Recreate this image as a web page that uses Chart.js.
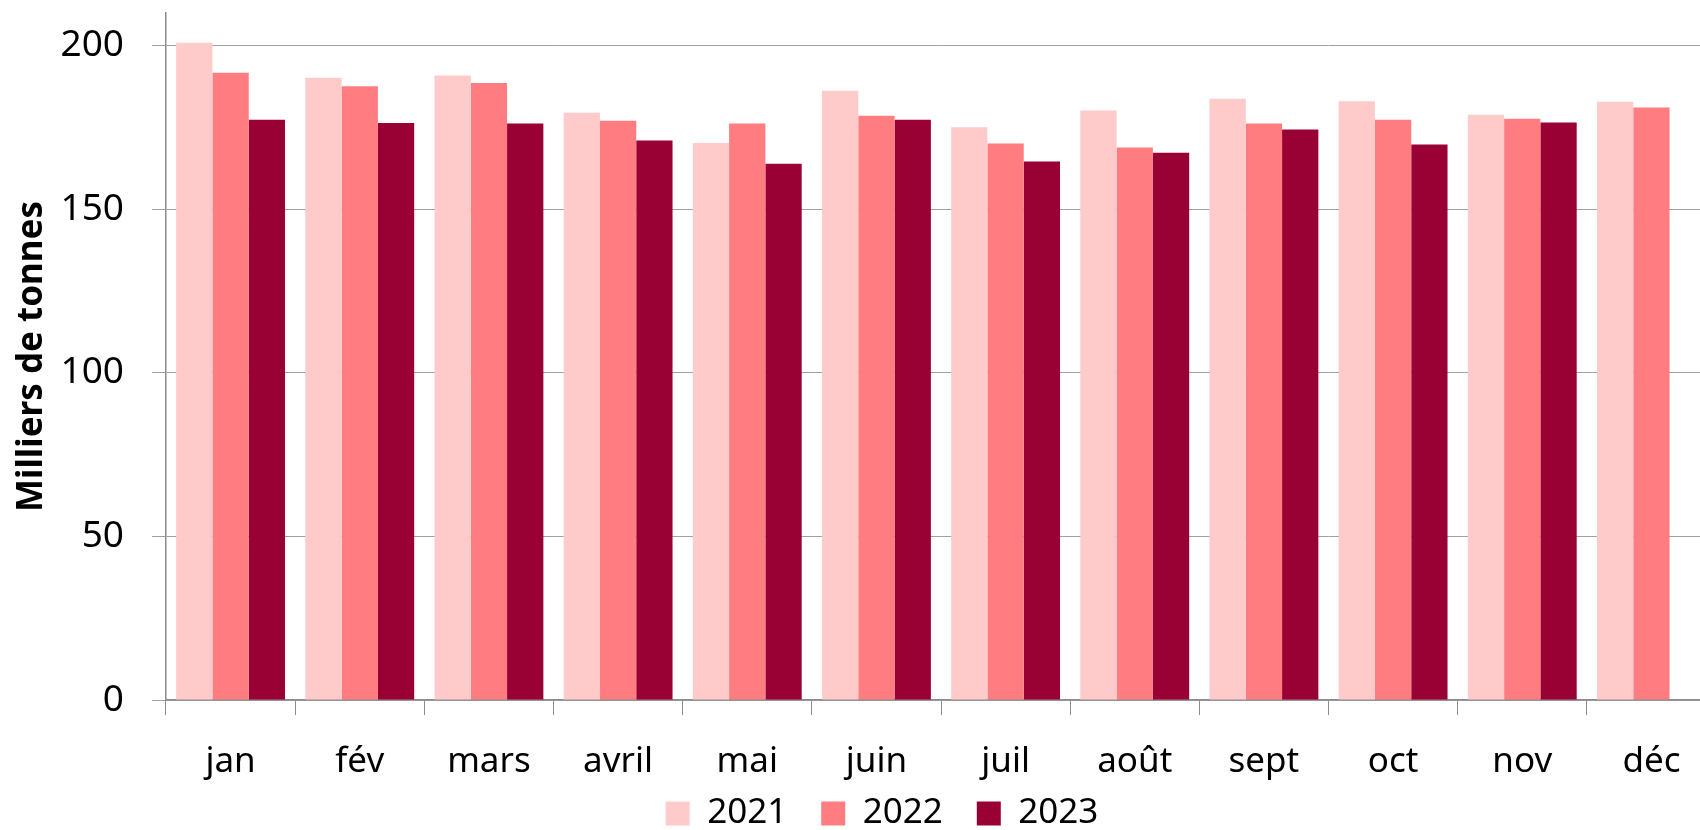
<!DOCTYPE html>
<html lang="fr">
<head>
<meta charset="utf-8">
<title>Milliers de tonnes par mois</title>
<script src="https://cdn.jsdelivr.net/npm/chart.js@4"></script>
<style>
    html, body { margin: 0; padding: 0; background: #fff; overflow: hidden; }
    #wrap { width: 1716px; height: 830px; }
</style>
</head>
<body>
<div id="wrap"><canvas id="moisChart"></canvas></div>
<script>
// Données (milliers de tonnes)
const mois = ['jan', 'fév', 'mars', 'avril', 'mai', 'juin', 'juil', 'août', 'sept', 'oct', 'nov', 'déc'];
const annees = ['2021', '2022', '2023'];
const valeurs2021 = [200.9, 190.2, 190.9, 179.5, 170.3, 186.2, 175.1, 180.2, 183.8, 183.0, 178.9, 182.9];
const valeurs2022 = [191.7, 187.6, 188.6, 177.1, 176.2, 178.6, 170.1, 168.9, 176.2, 177.4, 177.7, 181.1];
const valeurs2023 = [177.4, 176.4, 176.2, 171.0, 163.9, 177.4, 164.6, 167.3, 174.4, 169.8, 176.5, null];
const graduations = [0, 50, 100, 150, 200];
const couleurs = ['#FFCACA', '#FF7C80', '#990033'];

Chart.defaults.font.family = '"Noto Sans", sans-serif';
Chart.defaults.color = '#000';

// la légende prend peu de hauteur, remonte sous l'axe des mois et se décale à droite
const legendeCompacte = {
    id: 'legendeCompacte',
    beforeLayout: function(chart) {
        const legende = chart.legend;
        if (legende && !legende._compacte) {
            const fitOrig = legende.fit.bind(legende);
            legende.fit = function() {
                fitOrig();
                this.height = 40;
            };
            legende._compacte = true;
        }
    },
    afterLayout: function(chart) {
        const legende = chart.legend;
        legende.top = chart.height - 68;
        legende.bottom = chart.height;
        legende.height = 68;
        legende.left += 24;
        legende.right += 24;
    }
};

const ctx = document.getElementById('moisChart').getContext('2d');
const moisChart = new Chart(ctx, {
    type: 'bar',
    data: {
        labels: mois,
        datasets: [valeurs2021, valeurs2022, valeurs2023].map(function(serie, i) {
            return {
                label: annees[i],
                data: serie,
                backgroundColor: couleurs[i],
                borderWidth: 0,
                barPercentage: 1.0,
                categoryPercentage: 0.843
            };
        })
    },
    options: {
        responsive: true,
        maintainAspectRatio: false,
        animation: false,
        layout: {
            padding: { left: 0, right: 0, top: 13, bottom: 0 }
        },
        scales: {
            x: {
                afterFit: function(scale) {
                    scale.height = 90;
                },
                grid: {
                    display: true,
                    drawOnChartArea: false,
                    drawTicks: true,
                    tickLength: 15,
                    color: '#8c8c8c'
                },
                border: { color: '#8c8c8c', width: 1.5 },
                ticks: {
                    font: { size: 35 },
                    padding: 26,
                    maxRotation: 0
                }
            },
            y: {
                min: 0,
                max: 210,
                afterBuildTicks: function(scale) {
                    scale.ticks = graduations.map(function(v) { return { value: v }; });
                },
                afterFit: function(scale) {
                    scale.width = 166;
                    scale.paddingTop = 0;
                    scale.paddingBottom = 0;
                },
                grid: {
                    color: '#a0a0a0',
                    tickLength: 14
                },
                border: { color: '#8c8c8c', width: 1.5 },
                ticks: {
                    font: { size: 37 },
                    padding: 28
                },
                title: {
                    display: true,
                    text: 'Milliers de tonnes',
                    font: { size: 35, weight: 'bold' },
                    padding: { top: 11, bottom: 0 }
                }
            }
        },
        plugins: {
            legend: {
                position: 'bottom',
                labels: {
                    boxWidth: 24,
                    boxHeight: 24,
                    padding: 34,
                    font: { size: 35 }
                }
            },
            tooltip: { enabled: false }
        }
    },
    plugins: [legendeCompacte]
});
</script>
</body>
</html>
